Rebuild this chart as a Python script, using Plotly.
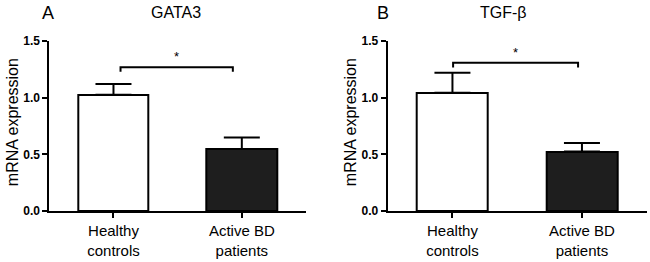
import plotly.graph_objects as go

categories = ["Healthy<br>controls", "Active BD<br>patients"]
gata3_mean = [1.025, 0.548]
gata3_sem = [0.095, 0.100]
tgfb_mean = [1.044, 0.524]
tgfb_sem = [0.175, 0.076]
bar_colors = ["#ffffff", "#1e1e1e"]
yticks = [0.0, 0.5, 1.0, 1.5]
ytick_labels = ["0.0", "0.5", "1.0", "1.5"]
panel_titles = ["GATA3", "TGF-β"]
panel_letters = ["A", "B"]
bracket_y = [1.268, 1.307]
bracket_x = [[0.055, 0.93], [0.005, 0.97]]
sig_label = "*"

W, H = 650, 262
FONT = "Liberation Sans, Arial"

xs = [0, 1]
fig = go.Figure()
for i, (means, sems) in enumerate([(gata3_mean, gata3_sem), (tgfb_mean, tgfb_sem)]):
    xa = "x" if i == 0 else "x2"
    ya = "y" if i == 0 else "y2"
    fig.add_trace(go.Bar(
        x=xs, y=means, width=0.55,
        marker=dict(color=bar_colors, line=dict(color="black", width=2)),
        error_y=dict(type="data", symmetric=False, array=sems, arrayminus=[0, 0],
                     color="black", thickness=2, width=18),
        xaxis=xa, yaxis=ya, showlegend=False, hoverinfo="skip",
    ))
    x0, x1 = bracket_x[i]
    yb = bracket_y[i]
    d = 0.04
    fig.add_shape(type="path", xref=xa, yref=ya,
                  path=f"M {x0} {yb-d} L {x0} {yb} L {x1} {yb} L {x1} {yb-d}",
                  line=dict(color="black", width=2))
    fig.add_annotation(x=(x0 + x1) / 2, y=yb, xref=xa, yref=ya, text=sig_label,
                       showarrow=False, yanchor="bottom", yshift=1,
                       font=dict(size=13, color="black", family=FONT))

axis_common_x = dict(range=[-0.5, 1.5], showline=True, linewidth=2, linecolor="black",
                     ticks="outside", ticklen=5, tickwidth=2, tickcolor="black",
                     tickvals=xs, ticktext=categories, showgrid=False, zeroline=False,
                     automargin=False,
                     tickfont=dict(size=15, color="black", family=FONT))
axis_common_y = dict(range=[0, 1.5], showline=True, linewidth=2, linecolor="black",
                     ticks="outside", ticklen=5, tickwidth=2, tickcolor="black",
                     tickvals=yticks, ticktext=["<b>%s</b>" % t for t in ytick_labels],
                     showgrid=False, zeroline=False, automargin=False,
                     tickfont=dict(size=12, color="black", family=FONT))

top_px, bottom_px = 41, 210.7
plot_h = bottom_px - top_px


def px_x(v):
    return v / W


def px_y(v):
    return (bottom_px - v) / plot_h


fig.update_layout(
    width=W, height=H,
    margin=dict(l=0, r=0, t=top_px, b=H - bottom_px),
    paper_bgcolor="white", plot_bgcolor="white",
    bargap=0,
    xaxis=dict(domain=[px_x(49.3), px_x(306)], anchor="y", **axis_common_x),
    yaxis=dict(domain=[0, 1], anchor="x", **axis_common_y),
    xaxis2=dict(domain=[px_x(387.7), px_x(646.7)], anchor="y2", **axis_common_x),
    yaxis2=dict(domain=[0, 1], anchor="x2", **axis_common_y),
)

letter_x = [47.5, 383]
title_x = [175.5, 504]
ytitle_x = [12, 350]
for i in range(2):
    fig.add_annotation(x=px_x(letter_x[i]), y=px_y(13), xref="paper", yref="paper",
                       text=panel_letters[i], showarrow=False, xanchor="center", yanchor="middle",
                       font=dict(size=18, color="black", family=FONT))
    fig.add_annotation(x=px_x(title_x[i]), y=px_y(12.5), xref="paper", yref="paper",
                       text=panel_titles[i], showarrow=False, xanchor="center", yanchor="middle",
                       font=dict(size=16, color="black", family=FONT))
    fig.add_annotation(x=px_x(ytitle_x[i]), y=px_y(122), xref="paper", yref="paper",
                       text="mRNA expression", textangle=-90, showarrow=False,
                       xanchor="center", yanchor="middle",
                       font=dict(size=16, color="black", family=FONT))

fig.write_html("out.html", config={"displayModeBar": False},
               post_script="document.body.style.margin='0px';")
